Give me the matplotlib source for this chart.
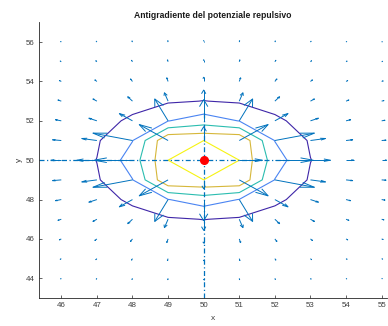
import numpy as np
import matplotlib
matplotlib.use("Agg")
import matplotlib.pyplot as plt
from matplotlib.collections import LineCollection

# ---------------- dati ----------------
x_vals = [46, 47, 48, 49, 50, 51, 52, 53, 54, 55]
y_vals = [44, 45, 46, 47, 48, 49, 50, 51, 52, 53, 54, 55, 56]
obstacle = [50, 50]
u_max = 0.47          # saturazione del potenziale vicino all'ostacolo
levels = [0.1096, 0.2027, 0.296, 0.389, 0.482]
level_colors = ["#3e26a8", "#4a84f2", "#2bbdb0", "#d6b73a", "#f6f312"]
# frecce dei punti adiacenti all'ostacolo (gradiente non finito)
near_x = [51, 50, 50]
near_y = [50, 51, 49]
near_u = [0.65, 0.0, 0.0]
near_v = [0.0, 0.7, -0.45]
x_ticks = [46, 47, 48, 49, 50, 51, 52, 53, 54, 55]
y_ticks = [44, 46, 48, 50, 52, 54, 56]

ARROW_SCALE = 6.0
QCOL = "#0072bd"

# ---------------- potenziale e antigradiente ----------------
X, Y = np.meshgrid(x_vals, y_vals)
rho = np.hypot(X - obstacle[0], Y - obstacle[1])
with np.errstate(divide="ignore"):
    U = np.minimum(1.0 / rho**2, u_max)
U[rho == 0] = np.inf
with np.errstate(invalid="ignore"):
    gy, gx = np.gradient(U, y_vals, x_vals)
u = -gx * ARROW_SCALE
v = -gy * ARROW_SCALE


def matlab_arrows(x, y, u, v, a=0.33, b=0.33):
    # frecce stile MATLAB: asta + punta aperta
    segs = []
    for xi, yi, ui, vi in zip(x, y, u, v):
        tx, ty = xi + ui, yi + vi
        segs.append([(xi, yi), (tx, ty)])
        h1 = (tx - a * (ui + b * vi), ty - a * (vi - b * ui))
        h2 = (tx - a * (ui - b * vi), ty - a * (vi + b * ui))
        segs.append([h1, (tx, ty), h2])
    return segs


fig = plt.figure(figsize=(3.88, 3.26), dpi=100)
ax = fig.add_axes([39 / 388, 1 - 298 / 326, (387 - 39) / 388, (298 - 22.4) / 326])

Uc = np.where(np.isfinite(U), U, 10.0)
ax.contour(X, Y, Uc, levels=levels, colors=level_colors, linewidths=0.8)

xlim = (45.374, 55.15)
ylim = (43.0, 57.0)
# frecce illimitate (verso sinistra e verso il basso)
dash = (0, (4, 2, 1, 2))
ax.plot([xlim[0], 52.4], [50, 50], color=QCOL, lw=0.9, ls=dash)
ax.plot([50, 50], [ylim[0], 52.4], color=QCOL, lw=0.9, ls=dash)

fin = np.isfinite(u) & np.isfinite(v)
segs = matlab_arrows(X[fin], Y[fin], u[fin], v[fin])
segs += matlab_arrows(near_x, near_y, near_u, near_v)
ax.add_collection(LineCollection(segs, colors=QCOL, linewidths=0.7))

ax.plot(obstacle[0], obstacle[1], "o", color="red", ms=5.5, mec="red")

ax.set_xlim(*xlim)
ax.set_ylim(*ylim)
ax.set_xticks(x_ticks)
ax.set_yticks(y_ticks)
for s in ["top", "right"]:
    ax.spines[s].set_visible(False)
for s in ["left", "bottom"]:
    ax.spines[s].set_color("#262626")
    ax.spines[s].set_linewidth(0.6)
ax.tick_params(direction="in", length=2.5, width=0.5, labelsize=5.7,
               labelcolor="#404040", colors="#262626", pad=3)
for lab in ax.get_xticklabels() + ax.get_yticklabels():
    lab.set_family("Liberation Sans")
ax.set_title("Antigradiente del potenziale repulsivo", fontsize=6.2,
             fontweight="bold", family="Liberation Sans", color="#1a1a1a", pad=3)
ax.set_xlabel("x", fontsize=6, family="Liberation Sans", color="#404040", labelpad=4)
ax.set_ylabel("y", fontsize=6, family="Liberation Sans", color="#404040", labelpad=2)

fig.savefig("out.png", dpi=100)
